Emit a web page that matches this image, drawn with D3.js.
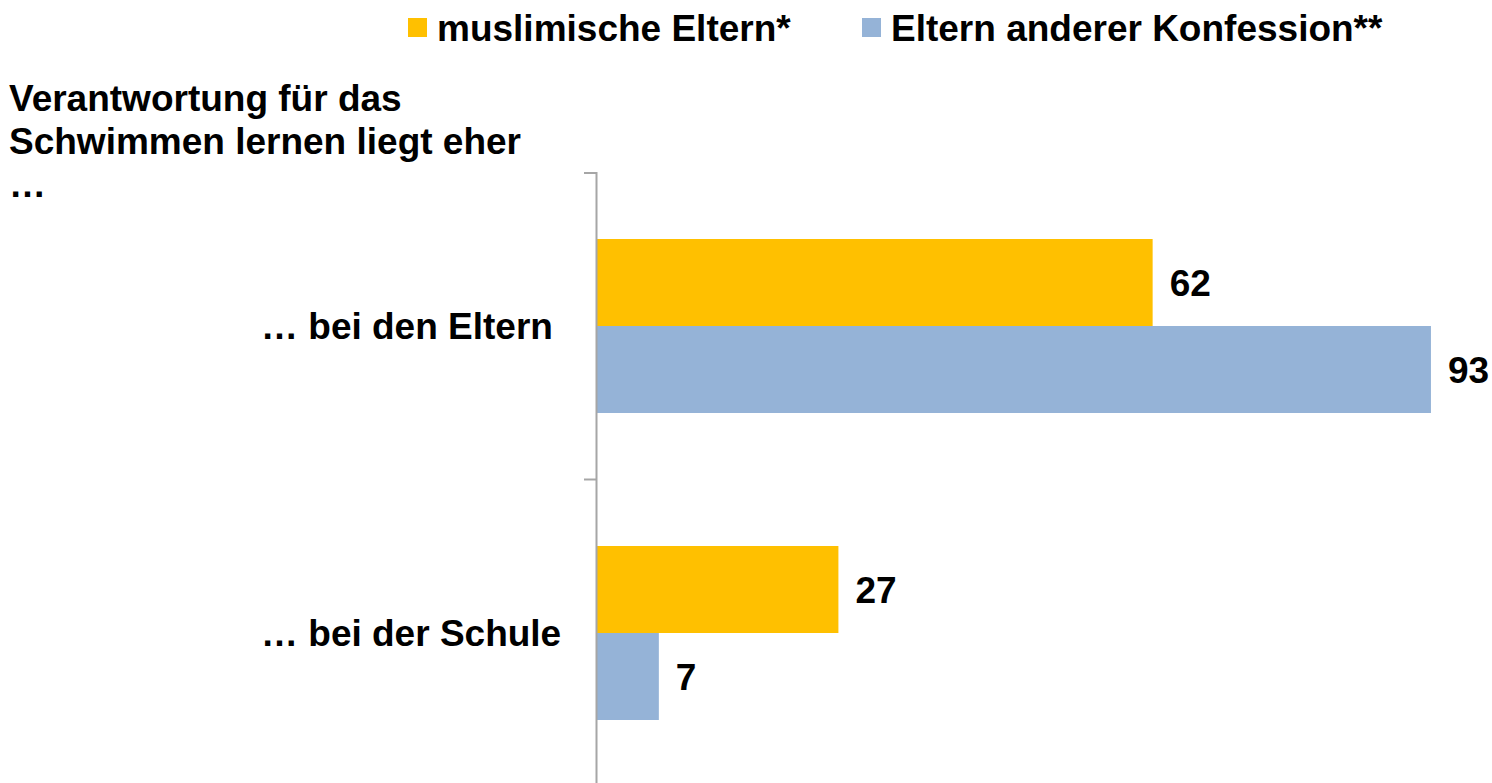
<!DOCTYPE html>
<html>
<head>
<meta charset="utf-8">
<script src="https://cdn.jsdelivr.net/npm/d3@7"></script>
<style>
  body { margin: 0; background: #fff; }
  svg text { font-family: "Liberation Sans", Arial, sans-serif; font-weight: bold; fill: #000; }
</style>
</head>
<body>
<svg width="1492" height="783"></svg>
<script>
const categories = ["… bei den Eltern", "… bei der Schule"];
const seriesNames = ["muslimische Eltern*", "Eltern anderer Konfession**"];
const muslimisch = [62, 27];
const andere = [93, 7];
const titleLines = ["Verantwortung für das", "Schwimmen lernen liegt eher", "…"];

const colors = ["#FFC000", "#95B3D7"];
const axisX = 596;
const fontSize = "37px";

const svg = d3.select("svg");

const rows = categories.map((c, i) => ({cat: c, values: [muslimisch[i], andere[i]]}));

// scales
const x = d3.scaleLinear().domain([0, 100]).range([axisX, axisX + 897.8]);
const y = d3.scaleBand().domain(categories).range([172.5, 786.5]);
const ySub = d3.scaleBand().domain([0, 1])
    .range([y.bandwidth() / 2 - 87, y.bandwidth() / 2 + 87]);

// bars
const groups = svg.selectAll("g.row")
    .data(rows)
    .enter()
    .append("g")
    .attr("class", "row")
    .attr("transform", d => `translate(0, ${y(d.cat)})`);

groups.selectAll("rect")
    .data(d => d.values)
    .enter()
    .append("rect")
    .attr("x", x(0))
    .attr("y", (d, i) => ySub(i))
    .attr("width", d => x(d) - x(0))
    .attr("height", ySub.bandwidth())
    .attr("fill", (d, i) => colors[i]);

// value labels
groups.selectAll("text.val")
    .data(d => d.values)
    .enter()
    .append("text")
    .attr("class", "val")
    .attr("x", d => x(d) + 17)
    .attr("y", (d, i) => ySub(i) + ySub.bandwidth() / 2)
    .attr("dy", "0.36em")
    .style("font-size", fontSize)
    .text(d => d);

// y axis: line with ticks at band boundaries
const yAxis = d3.axisLeft(y).tickSize(0).tickSizeOuter(12).tickFormat("");
const yAxisGroup = svg.append("g")
    .attr("transform", `translate(${axisX}, 0)`)
    .call(yAxis);
yAxisGroup.select(".domain").attr("stroke", "#a6a6a6").attr("stroke-width", 2);
yAxisGroup.selectAll(".tick").remove();

yAxisGroup.selectAll("line.sep")
    .data(categories.slice(1))
    .enter()
    .append("line")
    .attr("class", "sep")
    .attr("x1", -12)
    .attr("x2", 0)
    .attr("y1", d => y(d))
    .attr("y2", d => y(d))
    .attr("stroke", "#a6a6a6")
    .attr("stroke-width", 2);

// category labels
svg.selectAll("text.cat")
    .data(categories)
    .enter()
    .append("text")
    .attr("class", "cat")
    .attr("x", 261)
    .attr("y", d => y(d) + y.bandwidth() / 2)
    .attr("dy", "0.36em")
    .style("font-size", fontSize)
    .text(d => d);

// title
svg.append("text")
    .attr("x", 9)
    .attr("y", 111)
    .style("font-size", fontSize)
    .selectAll("tspan")
    .data(titleLines)
    .enter()
    .append("tspan")
    .attr("x", 9)
    .attr("dy", (d, i) => i === 0 ? 0 : 43)
    .text(d => d);

// legend
const legendX = [408, 862];
const legend = svg.selectAll("g.legend")
    .data(seriesNames)
    .enter()
    .append("g")
    .attr("class", "legend")
    .attr("transform", (d, i) => `translate(${legendX[i]}, 18)`);

legend.append("rect")
    .attr("width", 19)
    .attr("height", 19)
    .attr("fill", (d, i) => colors[i]);

legend.append("text")
    .attr("x", 29)
    .attr("y", 23)
    .style("font-size", fontSize)
    .text(d => d);
</script>
</body>
</html>
